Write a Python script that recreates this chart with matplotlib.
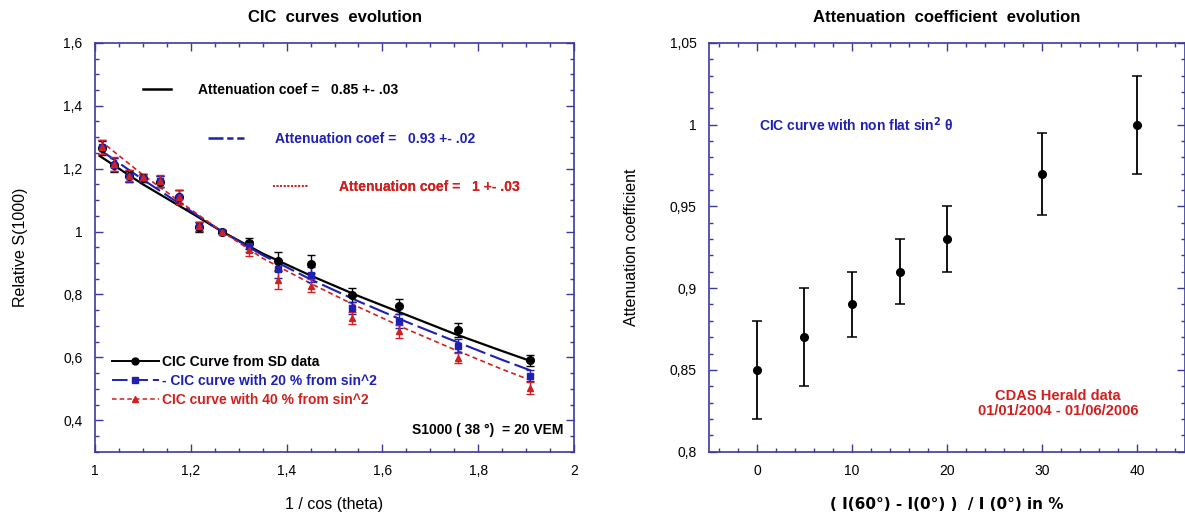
import numpy as np
import matplotlib
matplotlib.use('Agg')
import matplotlib.pyplot as plt
from matplotlib.lines import Line2D
from matplotlib.ticker import MultipleLocator, FuncFormatter

plt.rcParams['font.family'] = ['Liberation Sans', 'DejaVu Sans']

# ---- left panel data: CIC points ----
sec_theta = [1.014, 1.040, 1.071, 1.100, 1.136, 1.176, 1.218, 1.265,
             1.321, 1.381, 1.451, 1.537, 1.635, 1.757, 1.909]
s_sd = [1.265, 1.212, 1.176, 1.170, 1.159, 1.109, 1.015, 1.0,
        0.963, 0.905, 0.897, 0.799, 0.762, 0.688, 0.590]
s_20 = [1.268, 1.213, 1.177, 1.171, 1.160, 1.110, 1.016, 1.0,
        0.953, 0.881, 0.863, 0.757, 0.716, 0.637, 0.542]
s_40 = [1.270, 1.214, 1.178, 1.172, 1.161, 1.111, 1.016, 1.0,
        0.940, 0.847, 0.828, 0.725, 0.683, 0.598, 0.503]
err_sd = [0.022, 0.022, 0.018, 0.012, 0.018, 0.022, 0.015, 0.006,
          0.018, 0.030, 0.028, 0.022, 0.025, 0.022, 0.018]
err_20 = [0.022, 0.022, 0.018, 0.012, 0.018, 0.022, 0.015, 0.006,
          0.018, 0.028, 0.025, 0.020, 0.022, 0.020, 0.018]
err_40 = [0.022, 0.022, 0.018, 0.012, 0.018, 0.022, 0.015, 0.006,
          0.018, 0.030, 0.020, 0.020, 0.020, 0.015, 0.018]

# fitted curves
fit_x = [1.01, 1.10, 1.20, 1.265, 1.35, 1.45, 1.55, 1.65, 1.75, 1.85, 1.91]
fit_085 = [1.240, 1.150, 1.060, 1.000, 0.930, 0.860, 0.795, 0.735, 0.675, 0.620, 0.588]
fit_093 = [1.260, 1.165, 1.065, 1.000, 0.925, 0.848, 0.778, 0.713, 0.652, 0.592, 0.558]
fit_100 = [1.290, 1.180, 1.070, 1.000, 0.915, 0.835, 0.760, 0.690, 0.625, 0.562, 0.527]

# ---- right panel data ----
flat_pct = [0, 5, 10, 15, 20, 30, 40]
att_coef = [0.85, 0.87, 0.89, 0.91, 0.93, 0.97, 1.00]
att_err = [0.03, 0.03, 0.02, 0.02, 0.02, 0.025, 0.03]

BLACK = '#000000'
BLUE = '#1f1fb4'
RED = '#d02020'
SPINE = '#3a3a9e'


def comma(v, pos):
    return '{:g}'.format(round(v, 4)).replace('.', ',')


def style_axes(ax):
    for s in ax.spines.values():
        s.set_color(SPINE)
        s.set_linewidth(1.2)
    ax.tick_params(which='both', direction='in', top=True, right=True,
                   color=SPINE, labelsize=10, width=1)
    ax.tick_params(which='major', length=6)
    ax.tick_params(which='minor', length=3)
    ax.tick_params(axis='y', pad=9)
    ax.tick_params(axis='x', pad=9)
    ax.xaxis.set_major_formatter(FuncFormatter(comma))
    ax.yaxis.set_major_formatter(FuncFormatter(comma))


fig = plt.figure(figsize=(11.85, 5.15), dpi=100)
ax1 = fig.add_axes([0.0802, 0.1229, 0.4042, 0.794])
ax2 = fig.add_axes([0.5986, 0.1229, 0.4012, 0.794])

# ---------------- left ----------------
ax1.plot(fit_x, fit_085, color=BLACK, lw=1.6)
ax1.plot(fit_x, fit_093, color=BLUE, lw=1.5, dashes=(10, 2.5))
ax1.plot(fit_x, fit_100, color=RED, lw=1.2, dashes=(3, 2))

ax1.errorbar(sec_theta, s_sd, yerr=err_sd, fmt='o', color=BLACK, ms=5.5,
             capsize=3, elinewidth=1, capthick=1)
ax1.errorbar(sec_theta, s_20, yerr=err_20, fmt='s', color=BLUE, ms=5,
             capsize=3, elinewidth=1, capthick=1)
ax1.errorbar(sec_theta, s_40, yerr=err_40, fmt='^', color=RED, ms=5,
             capsize=3, elinewidth=1, capthick=1)

ax1.set_xlim(1, 2)
ax1.set_ylim(0.3, 1.6)
ax1.xaxis.set_major_locator(MultipleLocator(0.2))
ax1.xaxis.set_minor_locator(MultipleLocator(0.05))
ax1.yaxis.set_major_locator(MultipleLocator(0.2))
ax1.yaxis.set_minor_locator(MultipleLocator(0.05))
style_axes(ax1)
ax1.set_yticks([0.4, 0.6, 0.8, 1.0, 1.2, 1.4, 1.6])

ax1.set_title('CIC  curves  evolution', fontsize=12, fontweight='bold', y=1.05, pad=0)
ax1.set_xlabel('1 / cos (theta)', fontsize=11.5)
ax1.xaxis.set_label_coords(0.5, -0.11)
ax1.set_ylabel('Relative S(1000)', fontsize=11.5)
ax1.yaxis.set_label_coords(-0.14, 0.5)

# data legend (bottom left)
h_sd = Line2D([], [], color=BLACK, lw=1.4, marker='o', ms=5)
h_20 = Line2D([], [], color=BLUE, lw=1.4, marker='s', ms=5, dashes=(8, 2.5))
h_40 = Line2D([], [], color=RED, lw=1.1, marker='^', ms=5, dashes=(3, 2))
leg = ax1.legend([h_sd, h_20, h_40],
                 ['CIC Curve from SD data', '- CIC curve with 20 % from sin^2',
                  'CIC curve with 40 % from sin^2'],
                 loc='center left', bbox_to_anchor=(0.035, 0.173), frameon=False,
                 borderpad=0, borderaxespad=0, handlelength=3.4, handletextpad=0.2,
                 labelspacing=0.35, prop={'weight': 'bold', 'size': 10},
                 labelcolor=[BLACK, BLUE, RED])
ax1.add_artist(leg)

# fit legends (staggered, top)
fit_rows = [
    (Line2D([], [], color=BLACK, lw=1.8), 'Attenuation coef =   0.85 +- .03', BLACK, (0.100, 0.884), 2.0, 2.0),
    (Line2D([], [], color=BLUE, lw=1.8, dashes=(6, 1.5, 2.5, 1.5)), 'Attenuation coef =   0.93 +- .02', BLUE, (0.236, 0.764), 2.6, 2.2),
    (Line2D([], [], color=RED, lw=1.3, dashes=(1, 1)), 'Attenuation coef =   1 +- .03', RED, (0.371, 0.648), 2.6, 2.2),
]
for handle, label, col, anchor, hl, tp in fit_rows:
    lg = ax1.legend([handle], [label], loc='center left', bbox_to_anchor=anchor,
                    frameon=False, borderpad=0, borderaxespad=0,
                    handlelength=hl, handletextpad=tp,
                    prop={'weight': 'bold', 'size': 10}, labelcolor=[col])
    ax1.add_artist(lg)

ax1.text(0.977, 0.053, 'S1000 ( 38 °)  = 20 VEM', transform=ax1.transAxes,
         ha='right', va='center', fontsize=10, fontweight='bold', color=BLACK)

# ---------------- right ----------------
ax2.errorbar(flat_pct, att_coef, yerr=att_err, fmt='o', color=BLACK, ms=5.5,
             capsize=3.5, elinewidth=1.3, capthick=1.1)
ax2.set_xlim(-5, 45)
ax2.set_ylim(0.8, 1.05)
ax2.set_xticks([0, 10, 20, 30, 40])
ax2.xaxis.set_minor_locator(MultipleLocator(2))
ax2.yaxis.set_major_locator(MultipleLocator(0.05))
ax2.yaxis.set_minor_locator(MultipleLocator(0.01))
style_axes(ax2)

ax2.set_title('Attenuation  coefficient  evolution', fontsize=12, fontweight='bold', y=1.05, pad=0)
ax2.set_xlabel('( I(60°) - I(0°) )  / I (0°) in %', fontsize=11, fontweight='bold',
               family=['Liberation Sans Narrow', 'DejaVu Sans'])
ax2.xaxis.set_label_coords(0.5, -0.11)
ax2.set_ylabel('Attenuation coefficient', fontsize=11.5)
ax2.yaxis.set_label_coords(-0.148, 0.5)

ax2.text(0.2, 1.0, 'CIC curve with non flat sin$^{\\mathbf{2}}$ θ', color=BLUE,
         fontsize=10, fontweight='bold', ha='left', va='center')
ax2.text(31.7, 0.8295, 'CDAS Herald data\n01/01/2004 - 01/06/2006', color=RED,
         fontsize=10.5, fontweight='bold', ha='center', va='center', linespacing=1.1)

fig.savefig('out.png', dpi=100)
